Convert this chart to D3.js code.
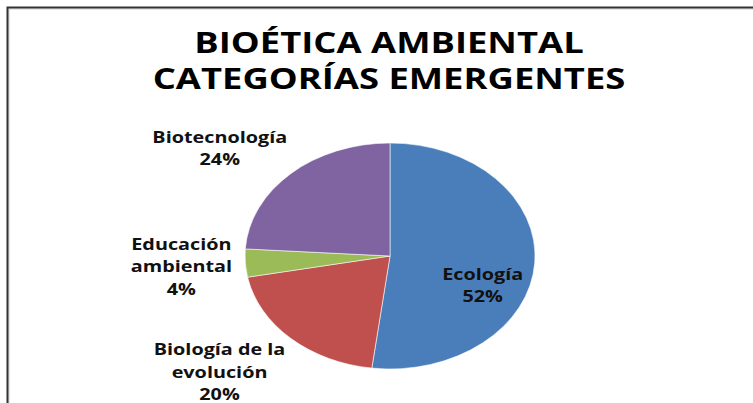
<!DOCTYPE html>
<html><head><meta charset="utf-8">
<script src="https://cdn.jsdelivr.net/npm/d3@7"></script>
<style>body{margin:0;background:#fff;overflow:hidden}</style>
</head><body>
<svg id="c" width="753" height="403"></svg>
<script>
// ---- data ----
const categories = ["Ecología", "Biología de la evolución", "Educación ambiental", "Biotecnología"];
const values = [52, 20, 4, 24];
const labelLines = [["Ecología"], ["Biología de la", "evolución"], ["Educación", "ambiental"], ["Biotecnología"]];
const colors = ["#4a7ebb", "#c0504d", "#9bbb59", "#8064a2"];
const titleLines = ["BIOÉTICA AMBIENTAL", "CATEGORÍAS EMERGENTES"];

// ---- layout ----
const W = 753, H = 403;
const cx = 390, cy = 256, ry = 113, rx = 145;
const sx = rx / ry;
const textStretch = 1.2, titleStretch = 1.3;
const labelFont = 16.5, labelLH = 22.5;
// nudges from slice-edge point to label block centre
const labelNudge = [[-52, 27.7], [-71.2, 39.6], [-63.9, 9.4], [-71, -19.8]];

const svg = d3.select("#c");
svg.append("rect").attr("width", W).attr("height", H).attr("fill", "#fff");
// frame (cut off at right and bottom)
svg.append("path").attr("d", `M9,${H+5} V9 H${W+5}`).attr("fill", "none").attr("stroke", "#d0d0d0").attr("stroke-width", 1);
svg.append("path").attr("d", `M7.5,${H+5} V7.5 H${W+5}`).attr("fill", "none").attr("stroke", "#333").attr("stroke-width", 2);

const font = "'Open Sans', 'DejaVu Sans', sans-serif";

// title
const tg = svg.append("g");
titleLines.forEach((t, i) => {
  tg.append("text")
    .attr("transform", `translate(${389},${53 + i * 36}) scale(${titleStretch},1)`)
    .attr("text-anchor", "middle")
    .attr("font-family", font).attr("font-weight", 700).attr("font-size", 28)
    .attr("fill", "#000").text(t);
});

// pie
const pie = d3.pie().sort(null).value(d => d)(values);
const arc = d3.arc().innerRadius(0).outerRadius(ry);
const pg = svg.append("g").attr("transform", `translate(${cx},${cy}) scale(${sx},1)`);
pg.selectAll("path").data(pie).join("path")
  .attr("d", arc)
  .attr("fill", (d, i) => colors[i])
  .attr("stroke", "#fff").attr("stroke-width", 0.8).attr("stroke-opacity", 0.7)
  .attr("vector-effect", "non-scaling-stroke");

// labels
const fmt = v => d3.format("d")(v) + "%";
pie.forEach((d, i) => {
  const a = (d.startAngle + d.endAngle) / 2;
  const ex = cx + Math.sin(a) * rx, ey = cy - Math.cos(a) * ry;
  const lines = labelLines[i].concat([fmt(values[i])]);
  const bx = ex + labelNudge[i][0];
  const midBase = ey + labelNudge[i][1];
  const firstBase = midBase - (lines.length - 1) * labelLH / 2;
  lines.forEach((ln, j) => {
    svg.append("text")
      .attr("transform", `translate(${bx},${firstBase + j * labelLH}) scale(${textStretch},1)`)
      .attr("text-anchor", "middle")
      .attr("font-family", font).attr("font-weight", 700).attr("font-size", labelFont)
      .attr("fill", "#111").text(ln);
  });
});
</script>
</body></html>
